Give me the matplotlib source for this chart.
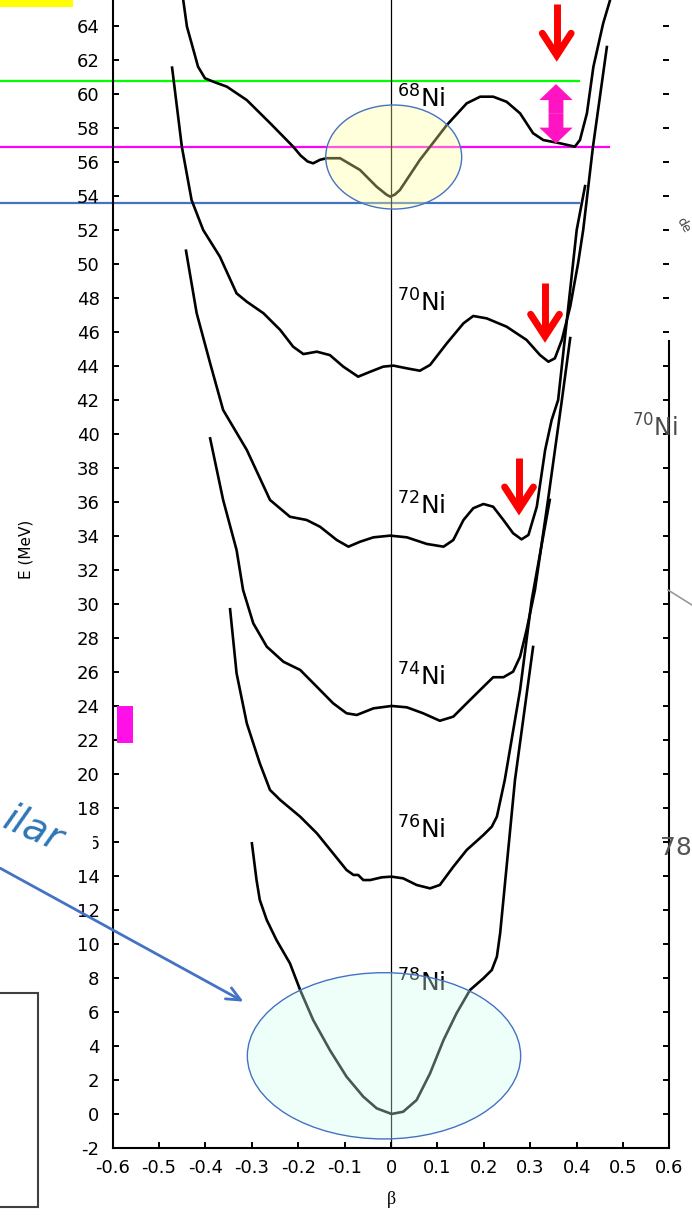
import numpy as np
import matplotlib.pyplot as plt
from matplotlib.patches import Ellipse, Rectangle, FancyArrow

plt.rcParams['font.family'] = ['DejaVu Sans']
plt.rcParams['axes.unicode_minus'] = False

# 势能曲线 E(beta)，单位 MeV
beta_68 = [-0.452, -0.448, -0.440, -0.430, -0.416, -0.401, -0.383, -0.354, -0.311, -0.261, -0.211,
           -0.195, -0.180, -0.168, -0.153, -0.139, -0.110, -0.067, -0.031, -0.010, -0.002, 0.008,
           0.019, 0.062, 0.120, 0.163, 0.192, 0.220, 0.249, 0.278, 0.306, 0.328, 0.364, 0.396,
           0.407, 0.422, 0.436, 0.457, 0.472, 0.482]
e_68 = [66.5, 65.55, 63.98, 63.0, 61.62, 60.94, 60.74, 60.45, 59.66, 58.31, 56.92,
        56.4, 56.05, 55.94, 56.15, 56.24, 56.24, 55.55, 54.56, 54.1, 53.98, 54.1,
        54.37, 56.14, 58.19, 59.47, 59.86, 59.86, 59.56, 58.88, 57.71, 57.31, 57.12, 56.92,
        57.31, 58.88, 61.62, 64.17, 65.55, 66.5]

beta_70 = [-0.472, -0.451, -0.430, -0.405, -0.369, -0.333, -0.311, -0.275, -0.239, -0.211,
           -0.189, -0.160, -0.132, -0.103, -0.071, -0.045, -0.017, 0.005, 0.034, 0.062, 0.084,
           0.120, 0.156, 0.177, 0.206, 0.249, 0.292, 0.321, 0.339, 0.353, 0.368, 0.386, 0.403,
           0.414, 0.435, 0.465]
e_70 = [61.57, 56.92, 53.78, 52.02, 50.45, 48.29, 47.80, 47.12, 46.14, 45.15,
        44.72, 44.86, 44.66, 43.98, 43.39, 43.68, 43.98, 44.04, 43.88, 43.74, 44.08,
        45.35, 46.53, 46.96, 46.82, 46.33, 45.55, 44.66, 44.27, 44.47, 45.55, 47.51, 50.06,
        52.02, 56.9, 62.78]

beta_72 = [-0.442, -0.419, -0.390, -0.362, -0.311, -0.261, -0.218, -0.182, -0.153, -0.117,
           -0.092, -0.067, -0.038, -0.002, 0.034, 0.077, 0.113, 0.134, 0.156, 0.177, 0.199,
           0.220, 0.242, 0.263, 0.281, 0.296, 0.314, 0.332, 0.346, 0.360, 0.400, 0.418]
e_72 = [50.8, 47.12, 44.18, 41.43, 39.08, 36.14, 35.15, 34.96, 34.56, 33.78,
        33.39, 33.68, 33.94, 34.04, 33.94, 33.55, 33.39, 33.78, 34.96, 35.65, 35.90,
        35.74, 34.96, 34.18, 33.82, 34.08, 35.74, 39.08, 40.84, 42.02, 52.02, 54.6]

beta_74 = [-0.390, -0.362, -0.333, -0.319, -0.297, -0.268, -0.232, -0.196, -0.160, -0.125,
           -0.096, -0.074, -0.038, 0.001, 0.034, 0.069, 0.105, 0.134, 0.163, 0.199, 0.220,
           0.242, 0.263, 0.278, 0.292, 0.310, 0.338, 0.368, 0.386]
e_74 = [39.76, 36.14, 33.19, 30.84, 28.88, 27.51, 26.62, 26.14, 25.15, 24.18,
        23.59, 23.49, 23.88, 24.02, 23.94, 23.59, 23.15, 23.39, 24.18, 25.15, 25.71,
        25.71, 26.04, 26.92, 28.49, 30.84, 36.1, 42.0, 45.66]

beta_76 = [-0.347, -0.333, -0.311, -0.283, -0.261, -0.239, -0.196, -0.160, -0.125, -0.096,
           -0.081, -0.071, -0.060, -0.045, -0.020, 0.001, 0.026, 0.055, 0.084, 0.105, 0.134,
           0.163, 0.199, 0.217, 0.228, 0.245, 0.278, 0.303, 0.342]
e_76 = [29.71, 25.94, 23.0, 20.65, 19.08, 18.49, 17.51, 16.53, 15.35, 14.37,
        14.08, 14.08, 13.78, 13.78, 13.94, 13.98, 13.88, 13.49, 13.29, 13.49, 14.56,
        15.55, 16.43, 16.92, 17.51, 19.67, 24.96, 30.25, 36.14]

beta_78 = [-0.300, -0.290, -0.283, -0.268, -0.247, -0.218, -0.196, -0.168, -0.132, -0.096,
           -0.060, -0.031, 0.001, 0.026, 0.055, 0.084, 0.113, 0.141, 0.170, 0.199, 0.217,
           0.228, 0.235, 0.242, 0.267, 0.306]
e_78 = [15.94, 13.78, 12.61, 11.43, 10.25, 8.88, 7.31, 5.55, 3.78, 2.21,
        1.04, 0.35, 0.02, 0.15, 0.84, 2.41, 4.37, 5.94, 7.31, 8.0, 8.49,
        9.27, 10.65, 12.61, 19.67, 27.49]

mass_numbers = ['68', '70', '72', '74', '76', '78']
label_e = [59.2, 47.2, 35.25, 25.2, 16.2, 7.2]

# 参考能级
e_green = 60.8
e_magenta = 56.9
e_blue = 53.6

# 红色箭头：beta 位置，箭头顶端，箭尖
arrow_beta = [0.357, 0.3317, 0.2757]
arrow_top = [65.3, 48.88, 38.59]
arrow_tip = [61.84, 45.31, 35.15]

x_ticks = [-0.6, -0.5, -0.4, -0.3, -0.2, -0.1, 0.0, 0.1, 0.2, 0.3, 0.4, 0.5, 0.6]
x_tick_labels = ['-0.6', '-0.5', '-0.4', '-0.3', '-0.2', '-0.1', '0',
                 '0.1', '0.2', '0.3', '0.4', '0.5', '0.6']
y_ticks = list(range(-2, 65, 2))

fig = plt.figure(figsize=(6.92, 12.25), dpi=100)
ax = fig.add_axes([0.16286, 0.06261, 0.80462, 0.94367])
ax.set_xlim(-0.6, 0.6)
ax.set_ylim(-2, 66)

ax.set_xticks(x_ticks)
ax.set_xticklabels(x_tick_labels)
ax.set_yticks(y_ticks)
ax.set_yticklabels([str(v) for v in y_ticks])
ax.tick_params(direction='in', length=4, width=1.4, labelsize=13, right=True)
ax.tick_params(axis='x', pad=8)
ax.tick_params(axis='y', pad=9.5)
for s in ['left', 'bottom', 'right']:
    ax.spines[s].set_linewidth(1.5)
ax.spines['top'].set_visible(False)
ax.spines['right'].set_bounds(-2, 45.5)

ax.set_xlabel('β', fontsize=13, family='Liberation Serif', labelpad=10)
ax.set_ylabel('E (MeV)', fontsize=11)
ax.yaxis.set_label_coords(-0.142, 0.518)

ax.axvline(0, color='black', lw=0.9, zorder=2)

# 能级线，左端伸出坐标轴
ax.plot([-0.85, 0.406], [e_green, e_green], color='#00FF00', lw=1.6, clip_on=False, zorder=1)
ax.plot([-0.85, 0.47], [e_magenta, e_magenta], color='#FF00FF', lw=1.6, clip_on=False, zorder=1)
ax.plot([-0.85, 0.406], [e_blue, e_blue], color='#4472C4', lw=1.6, clip_on=False, zorder=1)

curves = [(beta_68, e_68), (beta_70, e_70), (beta_72, e_72),
          (beta_74, e_74), (beta_76, e_76), (beta_78, e_78)]
for (b, e), a, ly in zip(curves, mass_numbers, label_e):
    ax.plot(b, e, color='black', lw=1.9, solid_joinstyle='round', zorder=3)
    ax.text(0.012, ly, r'$^{%s}$Ni' % a, fontsize=18, ha='left', va='baseline', zorder=3)

# 高亮椭圆
ax.add_patch(Ellipse((0.0056, 56.31), 0.293, 6.12, facecolor=(1.0, 1.0, 0.6, 0.35),
                     edgecolor='#4472C4', lw=1.0, zorder=4))
ax.add_patch(Ellipse((-0.0153, 3.44), 0.589, 9.78, facecolor=(0.81, 1.0, 0.94, 0.35),
                     edgecolor='#4472C4', lw=1.0, zorder=4))

# 红色向下箭头
for x, top, tip in zip(arrow_beta, arrow_top, arrow_tip):
    v = tip + 0.45
    ax.plot([x, x], [top, v + 0.3], color='#FF0000', lw=5, solid_capstyle='butt', zorder=5)
    ax.plot([x - 0.031, x, x + 0.031], [v + 1.3, v, v + 1.3], color='#FF0000', lw=5,
            solid_capstyle='round', solid_joinstyle='miter', zorder=5)

# 双向箭头
mid = (60.6 + 57.1) / 2
for d in (60.6 - mid, 57.1 - mid):
    ax.add_patch(FancyArrow(0.3554, mid, 0, d, width=0.032, head_width=0.072, head_length=0.94,
                            length_includes_head=True, color='#FF14C4', lw=0, zorder=5))

# 其余图层（像素坐标）
ov = fig.add_axes([0, 0, 1, 1], zorder=5)
ov.set_xlim(0, 692)
ov.set_ylim(1225, 0)
ov.axis('off')

ov.add_patch(Rectangle((0, -2), 73, 9, color='#FFFF00', lw=0))
ov.add_patch(Rectangle((117, 706), 16, 37, color='#FF10E8', lw=0))
ov.add_patch(Rectangle((-5, 993), 42.7, 213.7, fill=False, edgecolor='#404040', lw=1.5))
ov.add_patch(Rectangle((60, 830), 33, 26, color='white', lw=0))
ov.annotate('', xy=(246, 1003), xytext=(-2, 867),
            arrowprops=dict(arrowstyle='->,head_length=1.0,head_width=0.45',
                            color='#4472C4', lw=2))
ov.text(1, 827, 'ilar', fontsize=28, style='italic', color='#2E75B6', rotation=-24,
        rotation_mode='anchor', ha='left', va='baseline')

ov.text(632, 437, r'$^{70}$Ni', fontsize=17, color='#4a4a4a', ha='left', va='baseline')
ov.text(660, 855, '78', fontsize=18, color='#555555', ha='left', va='baseline')
ov.text(674, 232, 'de', fontsize=9, color='#444444', rotation=-60, ha='left', va='baseline')
ov.plot([668, 700], [590, 610], color='#999999', lw=1.2)

fig.savefig('out.png', dpi=100)
